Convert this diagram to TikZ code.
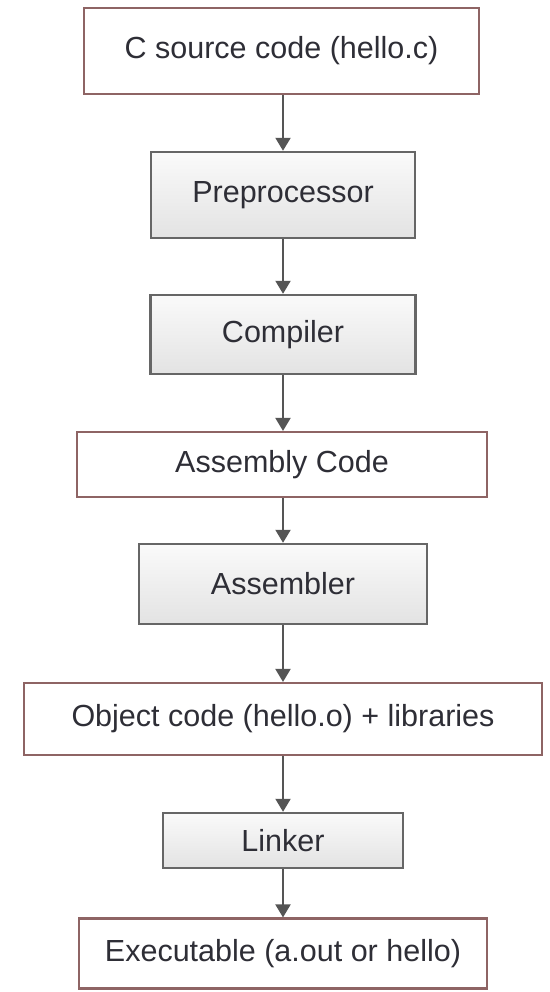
\documentclass[tikz,border=0pt]{standalone}
\usepackage{fontspec}
\setmainfont{Liberation Sans}
\usetikzlibrary{arrows.meta}
\definecolor{databorder}{HTML}{8E6464}
\definecolor{stepborder}{HTML}{666666}
\definecolor{textgray}{HTML}{2E2E36}
\definecolor{arrowgray}{HTML}{555555}
\tikzset{
  base/.style={rectangle, inner sep=0pt, font=\fontsize{30.5}{34}\selectfont, text=textgray},
  databox/.style={base, draw=databorder, line width=2.2pt, fill=white},
  stepbox/.style={base, draw=stepborder, line width=2.4pt, top color=white!98!black, bottom color=white!89!black},
  flow/.style={draw=arrowgray, line width=2pt, -{Triangle[length=13pt,width=15pt]}}
}
\begin{document}
\begin{tikzpicture}[x=1pt,y=-1pt]
\useasboundingbox (0,0) rectangle (549,992);
\fill[white] (0,0) rectangle (549,992);
% data files (outlined) and tool stages (shaded)
\node[databox, minimum width=395pt, minimum height=86pt] (src) at (281.5,51) {C source code (hello.c)};
\node[stepbox, minimum width=264pt, minimum height=86pt] (pre) at (283,195) {Preprocessor};
\node[stepbox, minimum width=265pt, minimum height=79pt] (cc)  at (283,334.5) {Compiler};
\node[databox, minimum width=410pt, minimum height=65pt] (asm) at (282,464.5) {Assembly Code};
\node[stepbox, minimum width=288pt, minimum height=80pt] (as)  at (283,584) {Assembler};
\node[databox, minimum width=518pt, minimum height=72pt] (obj) at (283,719) {Object code (hello.o) + libraries};
\node[stepbox, minimum width=240pt, minimum height=55pt] (ld)  at (283,840.5) {Linker};
\node[databox, minimum width=408pt, minimum height=70pt] (exe) at (283,953.5) {Executable (a.out or hello)};
% connectors between consecutive stages
\draw[flow] (src.south -| pre.north) -- (pre.north);
\draw[flow] (pre.south) -- (cc.north);
\draw[flow] (cc.south) -- (cc.south |- asm.north);
\draw[flow] (as.north |- asm.south) -- (as.north);
\draw[flow] (as.south) -- (obj.north);
\draw[flow] (obj.south) -- (ld.north);
\draw[flow] (ld.south) -- (exe.north);
\end{tikzpicture}
\end{document}
